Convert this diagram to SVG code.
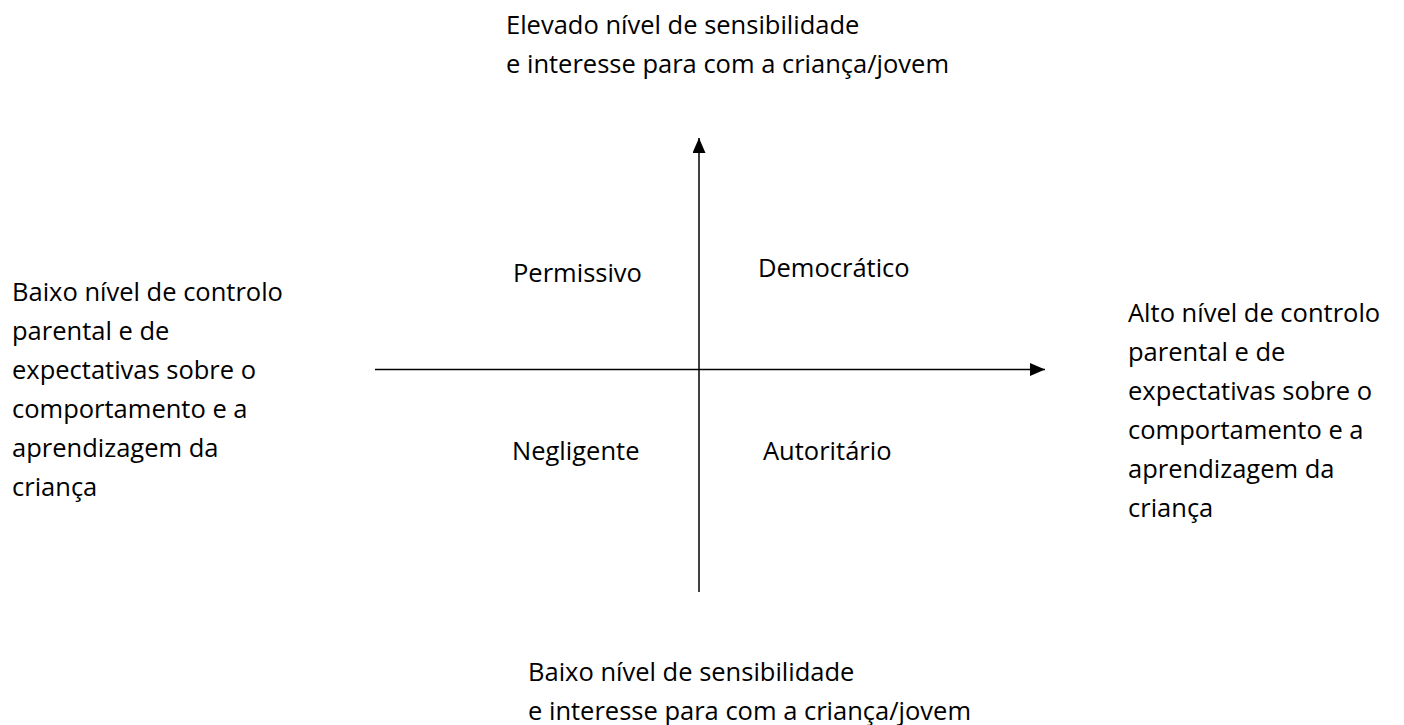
<svg xmlns="http://www.w3.org/2000/svg" width="1404" height="725" viewBox="0 0 1404 725">
<style>
text{font-family:"Open Sans","Noto Sans","Liberation Sans",sans-serif;font-size:25.5px;fill:#000}
.ax{stroke:#000;stroke-width:1.5;fill:none}
</style>
<defs>
<marker id="ah" viewBox="0 0 15 13" refX="15" refY="6.5" markerWidth="15" markerHeight="13" markerUnits="userSpaceOnUse" orient="auto"><path d="M0,0 L15,6.5 L0,13 Z" fill="#000"/></marker>
</defs>
<rect width="1404" height="725" fill="#fff"/>
<g id="connectors">
<line class="ax" x1="375" y1="369.5" x2="1045" y2="369.5" marker-end="url(#ah)"/>
<line class="ax" x1="699" y1="592" x2="699" y2="138" marker-end="url(#ah)"/>
</g>
<g id="top-label"><text x="506" y="34">Elevado nível de sensibilidade</text><text x="506" y="73">e interesse para com a criança/jovem</text></g>
<g id="bottom-label"><text x="528" y="681">Baixo nível de sensibilidade</text><text x="528" y="720">e interesse para com a criança/jovem</text></g>
<g id="left-label"><text x="12" y="301">Baixo nível de controlo</text><text x="12" y="340">parental e de</text><text x="12" y="379">expectativas sobre o</text><text x="12" y="418">comportamento e a</text><text x="12" y="457">aprendizagem da</text><text x="12" y="496">criança</text></g>
<g id="right-label"><text x="1128" y="322">Alto nível de controlo</text><text x="1128" y="361">parental e de</text><text x="1128" y="400">expectativas sobre o</text><text x="1128" y="439">comportamento e a</text><text x="1128" y="478">aprendizagem da</text><text x="1128" y="517">criança</text></g>
<g id="permissivo"><text x="513" y="282">Permissivo</text></g>
<g id="democratico"><text x="758" y="277">Democrático</text></g>
<g id="negligente"><text x="512" y="460">Negligente</text></g>
<g id="autoritario"><text x="763" y="460">Autoritário</text></g>
</svg>
